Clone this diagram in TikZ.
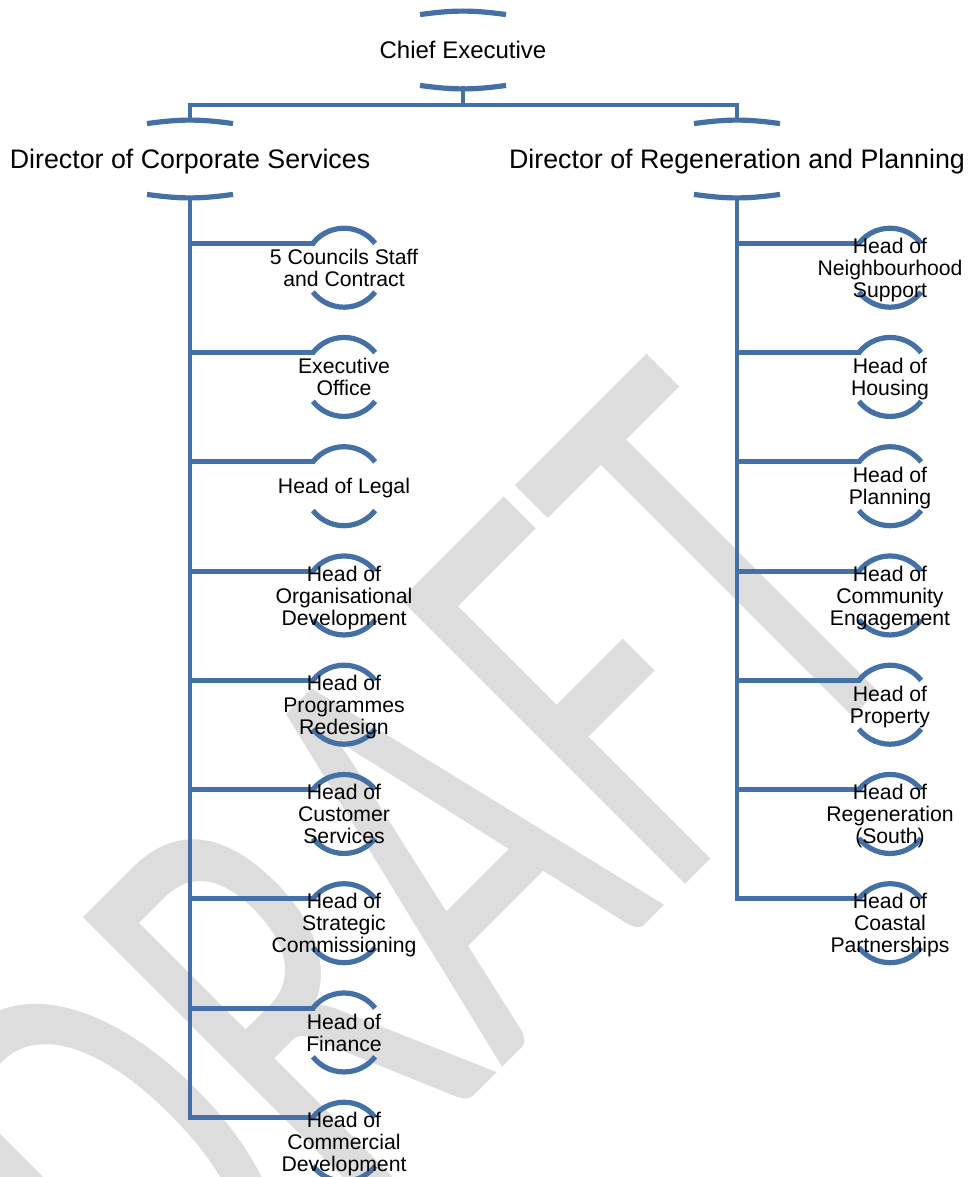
\documentclass[tikz,border=0pt]{standalone}
\usepackage{fontspec}
\setmainfont{Liberation Sans}
\newfontfamily\wmfamily{Carlito}
\usetikzlibrary{calc}

\definecolor{orgblue}{RGB}{68,112,166}
\definecolor{wmgray}{RGB}{221,221,221}

\tikzset{
	linkpen/.style={orgblue, line width=2.4pt, line cap=rect},
	arcpen/.style={orgblue, line width=2.6pt},
	bigbox/.style={font=\fontsize{12}{14}\selectfont, inner sep=0pt, text depth=0pt, minimum height=38.5pt},
	dirbox/.style={bigbox, font=\fontsize{13.4}{15}\selectfont},
	headbox/.style={font=\fontsize{10.6}{11}\selectfont, align=center, inner sep=0pt, text depth=0pt},
}

\begin{document}
\begin{tikzpicture}[x=0.5pt, y=0.5pt]
	\def\xCE{463};
	\def\xCS{190};
	\def\xRP{737};
	\def\xHL{344};
	\def\xHR{890};
	\def\rHead{39.5};
	\def\yStep{109.25};

	\useasboundingbox (0,0) rectangle (968,-1177);

	% watermark
	\begin{scope}
		\clip (0,0) rectangle (968,-1177);
		\node [rotate=45, anchor=base east, inner sep=0pt, text=wmgray, font=\wmfamily\fontsize{209}{209}\selectfont] (draft) at (935,-635) {\scalebox{0.96}[1.5]{DRAFT}};
	\end{scope}

	% top levels
	\node [bigbox] (ce) at (\xCE,-50) {Chief Executive};
	\node [dirbox] (dcs) at (\xCS,-159) {Director of Corporate Services};
	\node [dirbox] (drp) at (\xRP,-159) {Director of Regeneration and Planning};

	\foreach \n in {ce,dcs,drp} {
		\draw [arcpen] ([shift={(-43,-3.5)}]\n.north) to[bend left=8] ([shift={(43,-3.5)}]\n.north);
		\draw [arcpen] ([shift={(-43,3.5)}]\n.south) to[bend right=8] ([shift={(43,3.5)}]\n.south);
	}

	\coordinate (bus) at (\xCE,-105);
	\draw [linkpen] (ce.south) -- (bus);
	\draw [linkpen] (dcs.north) |- (bus) -| (drp.north);

	% corporate services
	\foreach \txt [count=\i] in {{5 Councils Staff\\and Contract}, {Executive\\Office}, {Head of Legal}, {Head of\\Organisational\\Development}, {Head of\\Programmes\\Redesign}, {Head of\\Customer\\Services}, {Head of\\Strategic\\Commissioning}, {Head of\\Finance}, {Head of\\Commercial\\Development}} {
		\coordinate (cs\i-c) at (\xHL,{-267.7-\yStep*(\i-1)});
		\coordinate (cs\i-in) at ([shift={(142:\rHead)}]cs\i-c);
		\draw [arcpen] (cs\i-in) arc[start angle=142, end angle=38, radius=\rHead];
		\draw [arcpen] ([shift={(218:\rHead)}]cs\i-c) arc[start angle=218, end angle=322, radius=\rHead];
		\draw [linkpen] (dcs |- cs\i-in) -- (cs\i-in);
		\node [headbox] (cs\i) at (cs\i-c) {\txt};
	}
	\draw [linkpen] (dcs.south) -- (dcs |- cs9-in);

	% regeneration and planning
	\foreach \txt [count=\i] in {{Head of\\Neighbourhood\\Support}, {Head of\\Housing}, {Head of\\Planning}, {Head of\\Community\\Engagement}, {Head of\\Property}, {Head of\\Regeneration\\(South)}, {Head of\\Coastal\\Partnerships}} {
		\coordinate (rp\i-c) at (\xHR,{-267.7-\yStep*(\i-1)});
		\coordinate (rp\i-in) at ([shift={(142:\rHead)}]rp\i-c);
		\draw [arcpen] (rp\i-in) arc[start angle=142, end angle=38, radius=\rHead];
		\draw [arcpen] ([shift={(218:\rHead)}]rp\i-c) arc[start angle=218, end angle=322, radius=\rHead];
		\draw [linkpen] (drp |- rp\i-in) -- (rp\i-in);
		\node [headbox] (rp\i) at (rp\i-c) {\txt};
	}
	\draw [linkpen] (drp.south) -- (drp |- rp7-in);
\end{tikzpicture}
\end{document}
